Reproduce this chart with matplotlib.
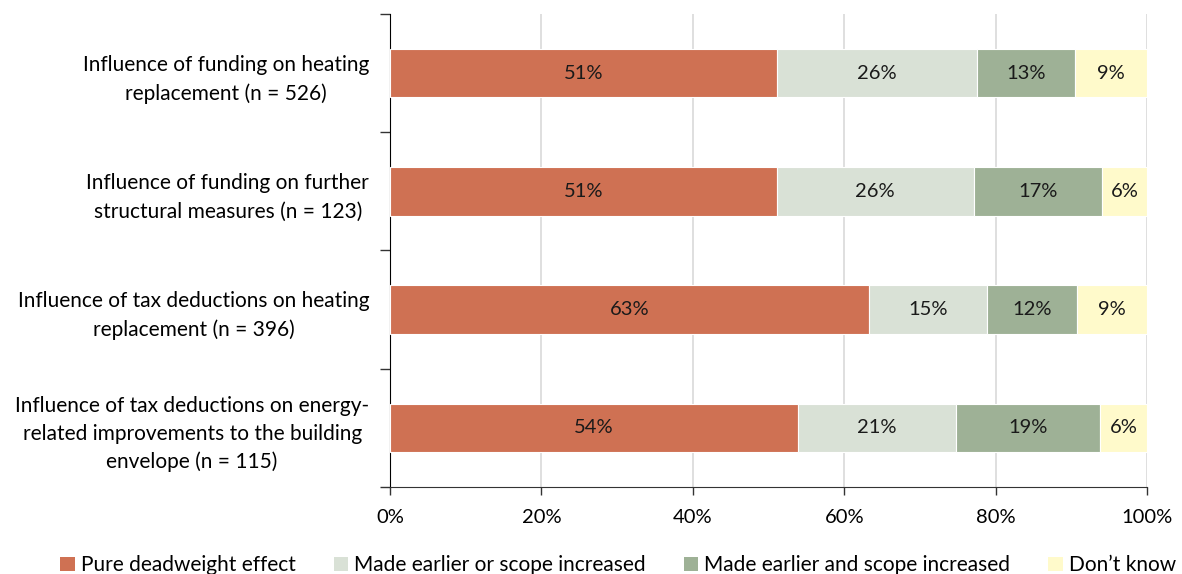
import matplotlib
matplotlib.use("Agg")
import matplotlib.pyplot as plt
import numpy as np
from matplotlib.ticker import FixedLocator, PercentFormatter

plt.rcParams['font.family'] = ['Lato', 'DejaVu Sans']

categories = [
    "Influence of funding on heating\nreplacement (n = 526)",
    "Influence of funding on further\nstructural measures (n = 123)",
    "Influence of tax deductions on heating\nreplacement (n = 396)",
    "Influence of tax deductions on energy-\nrelated improvements to the building\nenvelope (n = 115)",
]
series_names = ["Pure deadweight effect", "Made earlier or scope increased",
                "Made earlier and scope increased", "Don\u2019t know"]
pure = [51.1, 51.1, 63.3, 53.9]
earlier_or = [26.4, 26.0, 15.6, 20.9]
earlier_and = [13.0, 17.0, 11.9, 19.0]
dont_know = [9.5, 5.9, 9.2, 6.2]
labels_pure = ["51%", "51%", "63%", "54%"]
labels_or = ["26%", "26%", "15%", "21%"]
labels_and = ["13%", "17%", "12%", "19%"]
labels_dk = ["9%", "6%", "9%", "6%"]

colors = ["#CF7153", "#D9E1D6", "#9EB196", "#FFFACB"]

fig = plt.figure(figsize=(11.82, 5.74), dpi=100)
ax = fig.add_axes([0.33, 0.1516, 0.6404, 0.824])

y = np.arange(len(categories))
data = [pure, earlier_or, earlier_and, dont_know]
labs = [labels_pure, labels_or, labels_and, labels_dk]
left = np.zeros(len(categories))
for vals, name, col, lb in zip(data, series_names, colors, labs):
    bars = ax.barh(y, vals, left=left, height=0.41, color=col, label=name,
                   edgecolor="white", linewidth=0.8, zorder=3)
    for b, t in zip(bars, lb):
        ax.text(b.get_x() + b.get_width() / 2, b.get_y() + b.get_height() / 2, t,
                ha="center", va="center", fontsize=14.5, color="#1a1a1a", zorder=4)
    left += np.array(vals)

ax.set_xlim(0, 100)
ax.set_ylim(len(categories) - 0.5, -0.5)
ax.set_xticks(np.arange(0, 101, 20))
ax.xaxis.set_major_formatter(PercentFormatter(decimals=0))
ax.grid(axis="x", color="#D9D9D9", linewidth=1.2, zorder=0)

ax.yaxis.set_major_locator(FixedLocator(np.arange(-0.5, len(categories), 1)))
ax.yaxis.set_major_formatter(plt.NullFormatter())
ax.yaxis.set_minor_locator(FixedLocator(y))
ax.set_yticklabels(categories, minor=True)
ax.tick_params(axis="y", which="major", length=7, width=1, color="#333333")
ax.tick_params(axis="y", which="minor", length=0, pad=15, labelsize=15)
for lab in ax.get_yticklabels(minor=True):
    lab.set_multialignment("center")
    lab.set_linespacing(1.5)
ax.tick_params(axis="x", length=6, width=1, color="#333333", labelsize=14.5, pad=10)

for s in ["top", "right"]:
    ax.spines[s].set_visible(False)
ax.spines["left"].set_color("#000000")
ax.spines["bottom"].set_color("#333333")

leg = fig.legend(loc="lower center", bbox_to_anchor=(0.523, -0.035), ncol=4,
                 frameon=False, fontsize=15, handlelength=0.7, handleheight=0.7,
                 handletextpad=0.3, columnspacing=1.8)
for h in leg.legend_handles:
    h.set_edgecolor("none")

fig.savefig("out.png", dpi=100)
